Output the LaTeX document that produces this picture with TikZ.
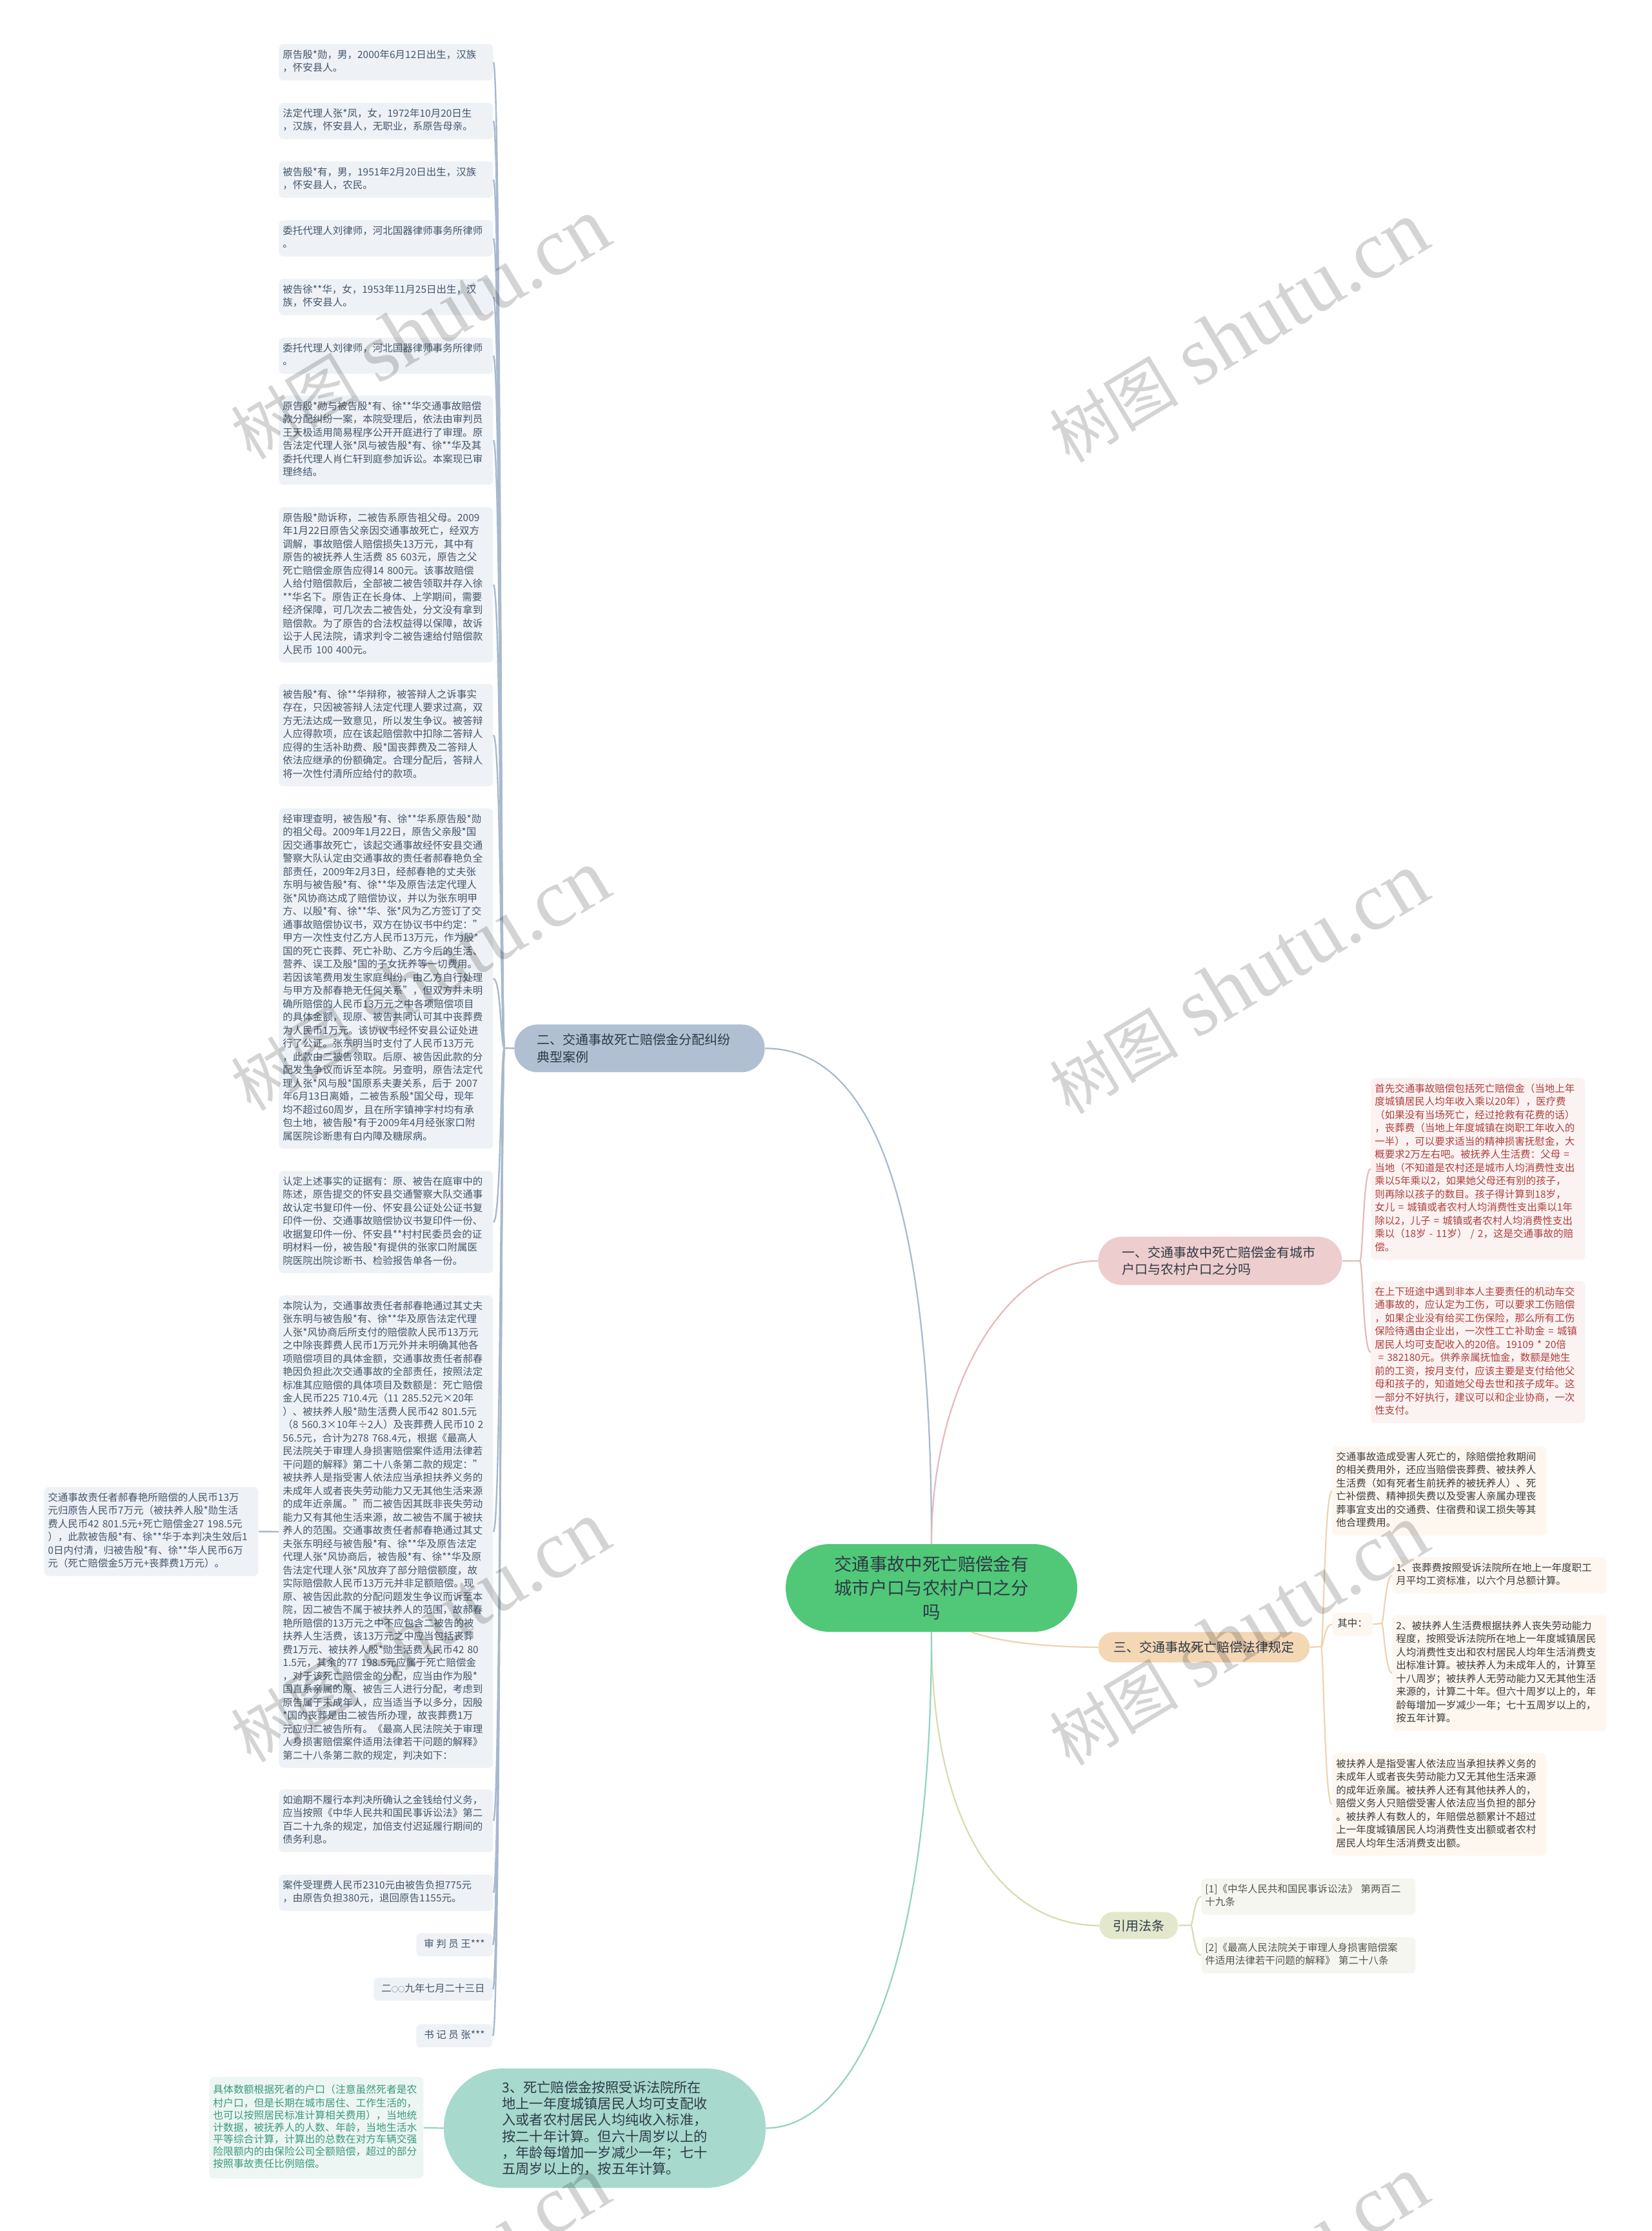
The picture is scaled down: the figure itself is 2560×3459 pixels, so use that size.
\documentclass[tikz,border=0pt]{standalone}
\usepackage{fontspec}
\setmainfont{Noto Sans CJK SC}
\newfontfamily\wmlatin{Liberation Serif}
\usetikzlibrary{calc}
\definecolor{cLfill}{HTML}{EEF2F6}
\definecolor{cLtext}{HTML}{44566C}
\definecolor{cLline}{HTML}{A8B9CC}
\definecolor{cBrTwo}{HTML}{B0C0D2}
\definecolor{cCenter}{HTML}{50C878}
\definecolor{cBrOne}{HTML}{EDCDCD}
\definecolor{cPline}{HTML}{E5BABA}
\definecolor{cPfill}{HTML}{FBF2F2}
\definecolor{cPtext}{HTML}{AE403D}
\definecolor{cBrThree}{HTML}{F4D7B5}
\definecolor{cBline}{HTML}{EFD3AF}
\definecolor{cBfill}{HTML}{FDF7F0}
\definecolor{cBtext}{HTML}{3D3D3D}
\definecolor{cRef}{HTML}{E3E8CC}
\definecolor{cRline}{HTML}{D5DCB3}
\definecolor{cRfill}{HTML}{F6F6F0}
\definecolor{cRtext}{HTML}{555555}
\definecolor{cBot}{HTML}{A7D9CD}
\definecolor{cTline}{HTML}{93D2C4}
\definecolor{cGfill}{HTML}{EDF6F3}
\definecolor{cGtext}{HTML}{3A9A7E}
\definecolor{cDark}{HTML}{2E3A46}
\newcommand\ftxt{\fontsize{7.75pt}{10.25pt}\selectfont}
\newcommand\fgrn{\fontsize{7.9pt}{9.4pt}\selectfont}
\newcommand\fbr{\fontsize{10pt}{13.4pt}\selectfont}
\newcommand\fctr{\fontsize{13.7pt}{18.6pt}\selectfont}
\newcommand\fbot{\fontsize{10.6pt}{12.6pt}\selectfont}
\newcommand\fwmc{\fontsize{50pt}{56pt}\selectfont}
\newcommand\fwml{\wmlatin\fontsize{64pt}{70pt}\selectfont}
\newcommand\smallzero{{\fontsize{5.2pt}{5pt}\selectfont ○○}}
\tikzset{
  tbox/.style={rounded corners=3.5pt, align=left, text width=160pt, inner xsep=3pt, inner ysep=3.8pt,
    anchor=north west, font=\ftxt, execute at begin node=\strut, execute at end node=\strut},
  lbox/.style={tbox, fill=cLfill, text=cLtext},
  pbox/.style={tbox, fill=cPfill, text=cPtext},
  bbox/.style={tbox, fill=cBfill, text=cBtext},
  rbox/.style={tbox, fill=cRfill, text=cRtext},
  sbox/.style={rounded corners=3.5pt, inner xsep=6pt, inner ysep=3.8pt, font=\ftxt,
    execute at begin node=\strut, execute at end node=\strut},
  lline/.style={draw=cLline, line width=1.2pt},
  pline/.style={draw=cPline, line width=1.1pt},
  bline/.style={draw=cBline, line width=1.1pt},
  rline/.style={draw=cRline, line width=1.1pt},
  tline/.style={draw=cTline, line width=1.1pt},
  wm/.style={rotate=31, text=black, opacity=0.17, inner sep=0pt}
}
\begin{document}
\begin{tikzpicture}[x=0.5pt,y=-0.5pt]
\fill[white] (0,0) rectangle (2560,3459);
\useasboundingbox (0,0) rectangle (2560,3459);

% ---------- central and branch nodes ----------
\node[fill=cCenter, rounded corners=34pt, minimum width=226pt, minimum height=68pt, align=center,
  font=\fctr, text=cDark] (ctr) at (1444,2462) {交通事故中死亡赔偿金有\\城市户口与农村户口之分\\吗};
\node[fill=cBrTwo, rounded corners=18pt, minimum height=37pt, text width=159pt, inner xsep=17.5pt,
  align=left, font=\fbr, text=cDark, anchor=north west] (brtwo) at (797,1588) {二、交通事故死亡赔偿金分配纠纷\\典型案例};
\node[fill=cBrOne, rounded corners=18.5pt, minimum height=37.5pt, text width=152pt, inner xsep=18.5pt,
  align=left, font=\fbr, text=cDark, anchor=north west] (brone) at (1702,1917) {一、交通事故中死亡赔偿金有城市\\户口与农村户口之分吗};
\node[fill=cBrThree, rounded corners=11.75pt, minimum height=23.5pt, inner xsep=12pt, font=\fbr,
  text=cDark, anchor=north west] (brthree) at (1702,2530) {三、交通事故死亡赔偿法律规定};
\node[fill=cRef, rounded corners=10.5pt, minimum height=21pt, inner xsep=10.5pt, font=\fbr,
  text=cDark, anchor=north west] (brref) at (1704,2964) {引用法条};
\node[fill=cBot, rounded corners=46pt, minimum width=249.5pt, minimum height=92.5pt, align=left,
  font=\fbot, text=cDark] (bot) at (937.5,3299.5) {3、死亡赔偿金按照受诉法院所在\\地上一年度城镇居民人均可支配收\\入或者农村居民人均纯收入标准，\\按二十年计算。但六十周岁以上的\\，年龄每增加一岁减少一年；七十\\五周岁以上的，按五年计算。};

% ---------- left column ----------
\node[lbox] (b1) at (432,68) {原告殷*勋，男，2000年6月12日出生，汉族\\，怀安县人。};
\node[lbox] (b2) at (432,159) {法定代理人张*凤，女，1972年10月20日生\\，汉族，怀安县人，无职业，系原告母亲。};
\node[lbox] (b3) at (432,250) {被告殷*有，男，1951年2月20日出生，汉族\\，怀安县人，农民。};
\node[lbox] (b4) at (432,341) {委托代理人刘律师，河北国器律师事务所律师\\。};
\node[lbox] (b5) at (432,432) {被告徐**华，女，1953年11月25日出生，汉\\族，怀安县人。};
\node[lbox] (b6) at (432,523) {委托代理人刘律师，河北国器律师事务所律师\\。};
\node[lbox] (b7) at (432,613) {原告殷*勋与被告殷*有、徐**华交通事故赔偿\\款分配纠纷一案，本院受理后，依法由审判员\\王天极适用简易程序公开开庭进行了审理。原\\告法定代理人张*凤与被告殷*有、徐**华及其\\委托代理人肖仁轩到庭参加诉讼。本案现已审\\理终结。};
\node[lbox] (b8) at (432,786) {原告殷*勋诉称，二被告系原告祖父母。2009\\年1月22日原告父亲因交通事故死亡，经双方\\调解，事故赔偿人赔偿损失13万元，其中有\\原告的被抚养人生活费~85~603元，原告之父\\死亡赔偿金原告应得14~800元。该事故赔偿\\人给付赔偿款后，全部被二被告领取并存入徐\\{}**华名下。原告正在长身体、上学期间，需要\\经济保障，可几次去二被告处，分文没有拿到\\赔偿款。为了原告的合法权益得以保障，故诉\\讼于人民法院，请求判令二被告速给付赔偿款\\人民币~100~400元。};
\node[lbox] (b9) at (432,1060) {被告殷*有、徐**华辩称，被答辩人之诉事实\\存在，只因被答辩人法定代理人要求过高，双\\方无法达成一致意见，所以发生争议。被答辩\\人应得款项，应在该起赔偿款中扣除二答辩人\\应得的生活补助费、殷*国丧葬费及二答辩人\\依法应继承的份额确定。合理分配后，答辩人\\将一次性付清所应给付的款项。};
\node[lbox] (b10) at (432,1253) {经审理查明，被告殷*有、徐**华系原告殷*勋\\的祖父母。2009年1月22日，原告父亲殷*国\\因交通事故死亡，该起交通事故经怀安县交通\\警察大队认定由交通事故的责任者郝春艳负全\\部责任，2009年2月3日，经郝春艳的丈夫张\\东明与被告殷*有、徐**华及原告法定代理人\\张*风协商达成了赔偿协议，并以为张东明甲\\方、以殷*有、徐**华、张*风为乙方签订了交\\通事故赔偿协议书，双方在协议书中约定：”\\甲方一次性支付乙方人民币13万元，作为殷*\\国的死亡丧葬、死亡补助、乙方今后的生活、\\营养、误工及殷*国的子女抚养等一切费用。\\若因该笔费用发生家庭纠纷，由乙方自行处理\\与甲方及郝春艳无任何关系”，但双方并未明\\确所赔偿的人民币13万元之中各项赔偿项目\\的具体金额，现原、被告共同认可其中丧葬费\\为人民币1万元。该协议书经怀安县公证处进\\行了公证。张东明当时支付了人民币13万元\\，此款由二被告领取。后原、被告因此款的分\\配发生争议而诉至本院。另查明，原告法定代\\理人张*风与殷*国原系夫妻关系，后于~2007\\年6月13日离婚，二被告系殷*国父母，现年\\均不超过60周岁，且在所字镇神字村均有承\\包土地，被告殷*有于2009年4月经张家口附\\属医院诊断患有白内障及糖尿病。};
\node[lbox] (b11) at (432,1815) {认定上述事实的证据有：原、被告在庭审中的\\陈述，原告提交的怀安县交通警察大队交通事\\故认定书复印件一份、怀安县公证处公证书复\\印件一份、交通事故赔偿协议书复印件一份、\\收据复印件一份、怀安县**村村民委员会的证\\明材料一份，被告殷*有提供的张家口附属医\\院医院出院诊断书、检验报告单各一份。};
\node[lbox] (b12) at (432,2008) {本院认为，交通事故责任者郝春艳通过其丈夫\\张东明与被告殷*有、徐**华及原告法定代理\\人张*风协商后所支付的赔偿款人民币13万元\\之中除丧葬费人民币1万元外并未明确其他各\\项赔偿项目的具体金额，交通事故责任者郝春\\艳因负担此次交通事故的全部责任，按照法定\\标准其应赔偿的具体项目及数额是：死亡赔偿\\金人民币225~710.4元（11~285.52元×20年\\）、被扶养人殷*勋生活费人民币42~801.5元\\（8~560.3×10年÷2人）及丧葬费人民币10~2\\56.5元，合计为278~768.4元，根据《最高人\\民法院关于审理人身损害赔偿案件适用法律若\\干问题的解释》第二十八条第二款的规定：”\\被扶养人是指受害人依法应当承担扶养义务的\\未成年人或者丧失劳动能力又无其他生活来源\\的成年近亲属。”而二被告因其既非丧失劳动\\能力又有其他生活来源，故二被告不属于被扶\\养人的范围。交通事故责任者郝春艳通过其丈\\夫张东明经与被告殷*有、徐**华及原告法定\\代理人张*风协商后，被告殷*有、徐**华及原\\告法定代理人张*风放弃了部分赔偿额度，故\\实际赔偿款人民币13万元并非足额赔偿。现\\原、被告因此款的分配问题发生争议而诉至本\\院，因二被告不属于被扶养人的范围，故郝春\\艳所赔偿的13万元之中不应包含二被告的被\\扶养人生活费，该13万元之中应当包括丧葬\\费1万元、被扶养人殷*勋生活费人民币42~80\\1.5元，其余的77~198.5元应属于死亡赔偿金\\，对于该死亡赔偿金的分配，应当由作为殷*\\国直系亲属的原、被告三人进行分配，考虑到\\原告属于未成年人，应当适当予以多分，因殷\\{}*国的丧葬是由二被告所办理，故丧葬费1万\\元应归二被告所有。《最高人民法院关于审理\\人身损害赔偿案件适用法律若干问题的解释》\\第二十八条第二款的规定，判决如下：};
\node[lbox] (b13) at (432,2774) {如逾期不履行本判决所确认之金钱给付义务，\\应当按照《中华人民共和国民事诉讼法》第二\\百二十九条的规定，加倍支付迟延履行期间的\\债务利息。};
\node[lbox] (b14) at (432,2906) {案件受理费人民币2310元由被告负担775元\\，由原告负担380元，退回原告1155元。};
\node[sbox, fill=cLfill, text=cLtext, anchor=north east] (b15) at (764,2997) {审 判 员 王***};
\node[sbox, fill=cLfill, text=cLtext, anchor=north east] (b16) at (764,3066) {二\smallzero 九年七月二十三日};
\node[sbox, fill=cLfill, text=cLtext, anchor=north east] (b17) at (764,3138) {书 记 员 张***};
\node[lbox] (fl) at (68,2305) {交通事故责任者郝春艳所赔偿的人民币13万\\元归原告人民币7万元（被扶养人殷*勋生活\\费人民币42~801.5元+死亡赔偿金27~198.5元\\），此款被告殷*有、徐**华于本判决生效后1\\0日内付清，归被告殷*有、徐**华人民币6万\\元（死亡赔偿金5万元+丧葬费1万元）。};

% ---------- right side ----------
\node[pbox] (pA) at (2125,1671) {首先交通事故赔偿包括死亡赔偿金（当地上年\\度城镇居民人均年收入乘以20年），医疗费\\（如果没有当场死亡，经过抢救有花费的话）\\，丧葬费（当地上年度城镇在岗职工年收入的\\一半），可以要求适当的精神损害抚慰金，大\\概要求2万左右吧。被抚养人生活费：父母~=\\当地（不知道是农村还是城市人均消费性支出\\乘以5年乘以2，如果她父母还有别的孩子，\\则再除以孩子的数目。孩子得计算到18岁，\\女儿~=~城镇或者农村人均消费性支出乘以1年\\除以2，儿子~=~城镇或者农村人均消费性支出\\乘以（18岁~-~11岁）~/~2，这是交通事故的赔\\偿。};
\node[pbox] (pB) at (2125,1986) {在上下班途中遇到非本人主要责任的机动车交\\通事故的，应认定为工伤，可以要求工伤赔偿\\，如果企业没有给买工伤保险，那么所有工伤\\保险待遇由企业出，一次性工亡补助金~=~城镇\\居民人均可支配收入的20倍。19109~*~20倍\\~=~382180元。供养亲属抚恤金，数额是她生\\前的工资，按月支付，应该主要是支付给他父\\母和孩子的，知道她父母去世和孩子成年。这\\一部分不好执行，建议可以和企业协商，一次\\性支付。};
\node[bbox] (bC) at (2065,2242) {交通事故造成受害人死亡的，除赔偿抢救期间\\的相关费用外，还应当赔偿丧葬费、被扶养人\\生活费（如有死者生前抚养的被抚养人）、死\\亡补偿费、精神损失费以及受害人亲属办理丧\\葬事宜支出的交通费、住宿费和误工损失等其\\他合理费用。};
\node[sbox, fill=cBfill, text=cBtext, inner xsep=4pt, anchor=north west] (bQ) at (2065,2500) {其中：};
\node[bbox] (bD) at (2158,2414) {1、丧葬费按照受诉法院所在地上一年度职工\\月平均工资标准，以六个月总额计算。};
\node[bbox] (bE) at (2158,2504) {2、被扶养人生活费根据扶养人丧失劳动能力\\程度，按照受诉法院所在地上一年度城镇居民\\人均消费性支出和农村居民人均年生活消费支\\出标准计算。被扶养人为未成年人的，计算至\\十八周岁；被扶养人无劳动能力又无其他生活\\来源的，计算二十年。但六十周岁以上的，年\\龄每增加一岁减少一年；七十五周岁以上的，\\按五年计算。};
\node[bbox] (bF) at (2065,2718) {被扶养人是指受害人依法应当承担扶养义务的\\未成年人或者丧失劳动能力又无其他生活来源\\的成年近亲属。被扶养人还有其他扶养人的，\\赔偿义务人只赔偿受害人依法应当负担的部分\\。被扶养人有数人的，年赔偿总额累计不超过\\上一年度城镇居民人均消费性支出额或者农村\\居民人均年生活消费支出额。};
\node[rbox] (rA) at (1862,2912) {[1]《中华人民共和国民事诉讼法》 第两百二\\十九条};
\node[rbox] (rB) at (1862,3003) {[2]《最高人民法院关于审理人身损害赔偿案\\件适用法律若干问题的解释》 第二十八条};
\node[tbox, fill=cGfill, text=cGtext, font=\fgrn, minimum height=78.5pt] (gbx) at (324,3220) {具体数额根据死者的户口（注意虽然死者是农\\村户口，但是长期在城市居住、工作生活的，\\也可以按照居民标准计算相关费用），当地统\\计数据，被抚养人的人数、年龄，当地生活水\\平等综合计算，计算出的总数在对方车辆交强\\险限额内的由保险公司全额赔偿，超过的部分\\按照事故责任比例赔偿。};

% ---------- connectors ----------
\coordinate (fL) at (782,1625);
\draw[lline] (brtwo.west) -- (fL);
\foreach \n in {b1,b2,b3,b4,b5,b6,b7,b8,b9,b10,b11,b12,b13,b14,b15,b16,b17}
  \draw[lline] (fL) .. controls +(-6,0) and +(12,0) .. (\n.east);
\draw[lline] (b12.west) -- (fl.east);

\coordinate (fP) at (2108,1955);
\draw[pline] (brone.east) -- (fP);
\draw[pline] (fP) .. controls +(5,0) and +(-12,0) .. (pA.west);
\draw[pline] (fP) .. controls +(5,0) and +(-12,0) .. (pB.west);

\coordinate (fB) at (2048,2553);
\draw[bline] (brthree.east) -- (fB);
\draw[bline] (fB) .. controls +(4,0) and +(-12,0) .. (bC.west);
\draw[bline] (fB) .. controls +(4,0) and +(-12,0) .. (bQ.west);
\draw[bline] (fB) .. controls +(4,0) and +(-12,0) .. (bF.west);
\coordinate (fQ) at (2142,2517);
\draw[bline] (bQ.east) -- (fQ);
\draw[bline] (fQ) .. controls +(3,0) and +(-10,0) .. (bD.west);
\draw[bline] (fQ) .. controls +(3,0) and +(-10,0) .. (bE.west);

\coordinate (fR) at (1846,2985);
\draw[rline] (brref.east) -- (fR);
\draw[rline] (fR) .. controls +(3,0) and +(-10,0) .. (rA.west);
\draw[rline] (fR) .. controls +(3,0) and +(-10,0) .. (rB.west);

\draw[draw=cLline, line width=1.1pt] (ctr.north) .. controls +(0,-594) and +(144,0) .. (brtwo.east);
\draw[pline] (ctr.north) .. controls +(0,-244) and +(-142,0) .. (brone.west);
\draw[bline] ($(ctr.south)+(62,0)$) .. controls +(50,18) and +(-60,0) .. (brthree.west);
\draw[rline] (ctr.south) .. controls +(0,320) and +(-140,0) .. (brref.west);
\draw[tline] (ctr.south) .. controls +(0,570) and +(120,0) .. (bot.east);
\draw[tline] (bot.west) -- (gbx.east);

% ---------- watermarks ----------
\foreach \wx/\wy [count=\i] in {651/510,1920/515,651/1520,1920/1525,651/2530,1920/2535,651/3545,1920/3545}
  \node[wm] (wm\i) at (\wx,\wy) {{\fwmc 树图}\hspace{14pt}{\fwml shutu.cn}};
\end{tikzpicture}
\end{document}
